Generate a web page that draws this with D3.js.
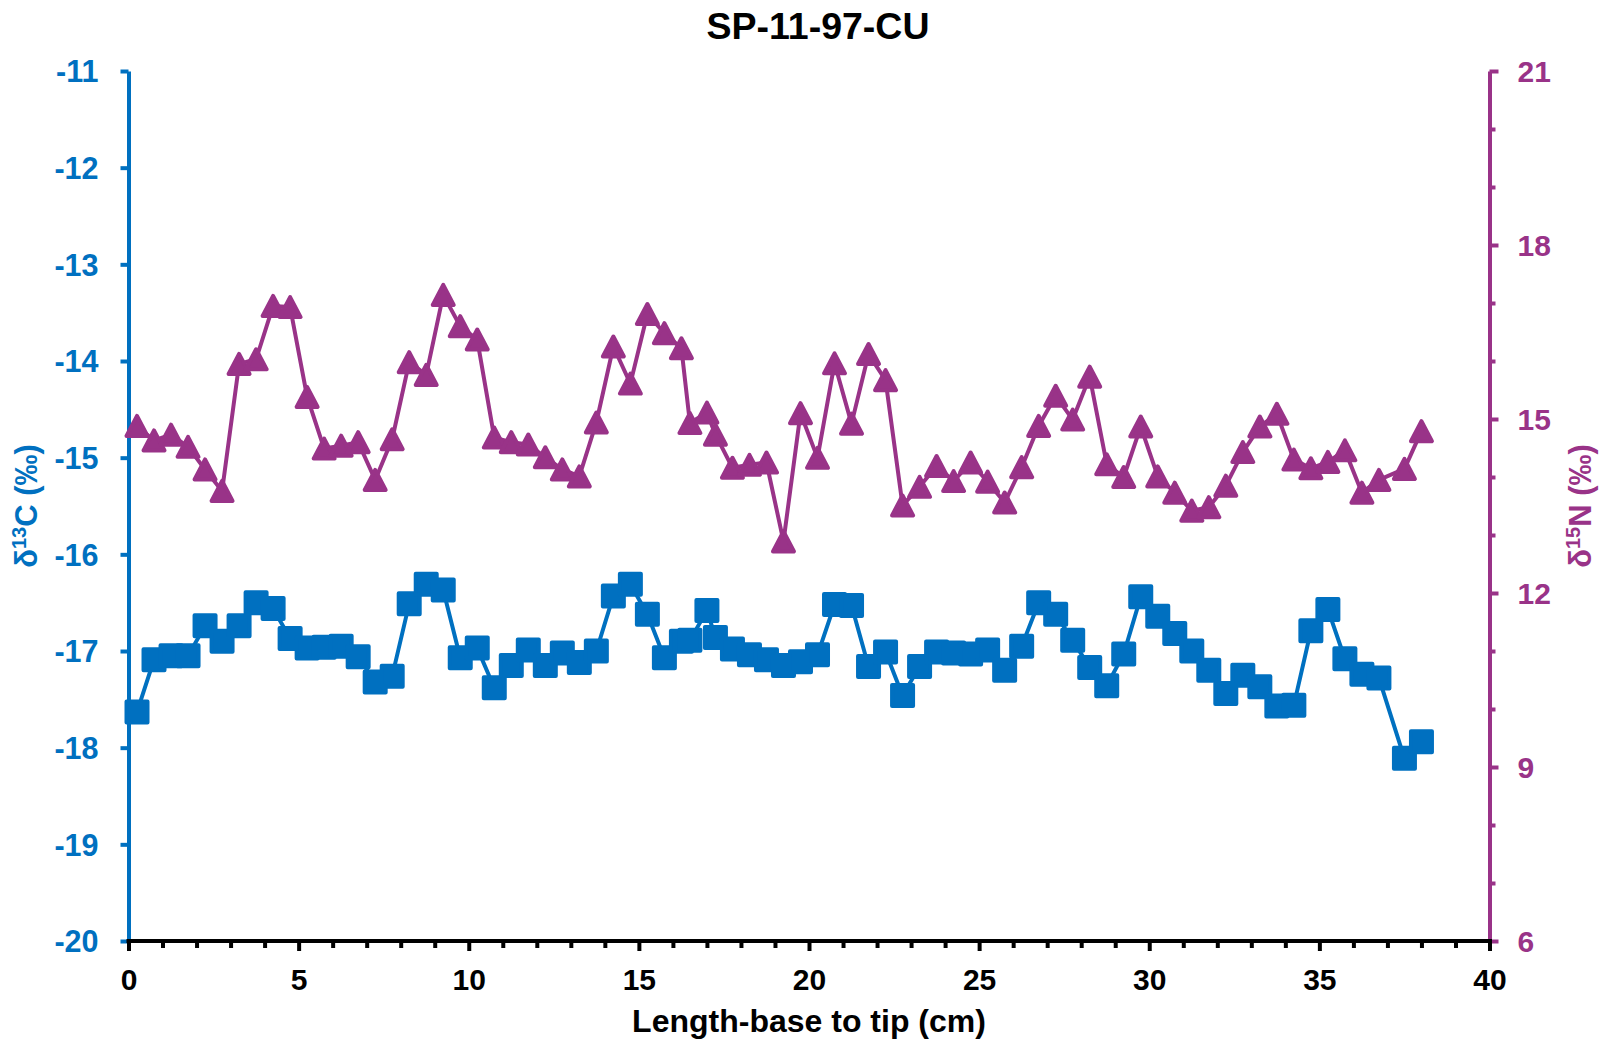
<!DOCTYPE html>
<html>
<head>
<meta charset="utf-8">
<script src="https://cdn.jsdelivr.net/npm/d3@7"></script>
<style>
  html, body { margin: 0; padding: 0; background: #ffffff; }
  svg { display: block; }
</style>
</head>
<body>
<svg id="chart" width="1606" height="1046"></svg>
<script>
// Sample positions along the specimen, base to tip (cm)
const lengthCm = [
  0.25, 0.75, 1.25, 1.75, 2.25, 2.75, 3.25, 3.75, 4.25, 4.75,
  5.25, 5.75, 6.25, 6.75, 7.25, 7.75, 8.25, 8.75, 9.25, 9.75,
  10.25, 10.75, 11.25, 11.75, 12.25, 12.75, 13.25, 13.75, 14.25, 14.75,
  15.25, 15.75, 16.25, 16.5, 17.0, 17.25, 17.75, 18.25, 18.75, 19.25,
  19.75, 20.25, 20.75, 21.25, 21.75, 22.25, 22.75, 23.25, 23.75, 24.25,
  24.75, 25.25, 25.75, 26.25, 26.75, 27.25, 27.75, 28.25, 28.75, 29.25,
  29.75, 30.25, 30.75, 31.25, 31.75, 32.25, 32.75, 33.25, 33.75, 34.25,
  34.75, 35.25, 35.75, 36.25, 36.75, 37.5, 38.0
];

// Carbon isotope ratio, left axis (‰)
const d13C = [
  -17.63, -17.09, -17.05, -17.05, -16.74, -16.90, -16.74, -16.50, -16.56, -16.87,
  -16.97, -16.96, -16.95, -17.06, -17.32, -17.26, -16.51, -16.31, -16.37, -17.07,
  -16.97, -17.38, -17.15, -16.99, -17.15, -17.02, -17.12, -17.00, -16.43, -16.31,
  -16.62, -17.07, -16.90, -16.89, -16.58, -16.86, -16.98, -17.04, -17.09, -17.15,
  -17.11, -17.04, -16.52, -16.53, -17.16, -17.01, -17.46, -17.16, -17.01, -17.02,
  -17.03, -16.99, -17.20, -16.95, -16.50, -16.62, -16.89, -17.17, -17.36, -17.03,
  -16.44, -16.64, -16.82, -17.00, -17.20, -17.44, -17.25, -17.37, -17.57, -17.56,
  -16.79, -16.57, -17.08, -17.24, -17.28, -18.11, -17.94
];

// Nitrogen isotope ratio, right axis (‰)
const d15N = [
  14.88, 14.63, 14.73, 14.52, 14.13, 13.76, 15.95, 16.03, 16.95, 16.93,
  15.38, 14.49, 14.54, 14.60, 13.95, 14.65, 15.98, 15.76, 17.14, 16.60,
  16.37, 14.68, 14.60, 14.56, 14.34, 14.13, 14.01, 14.94, 16.25, 15.61,
  16.81, 16.48, 16.22, 14.93, 15.11, 14.73, 14.16, 14.21, 14.25, 12.89,
  15.10, 14.33, 15.96, 14.92, 16.12, 15.67, 13.51, 13.83, 14.19, 13.93,
  14.25, 13.92, 13.56, 14.17, 14.88, 15.40, 14.99, 15.73, 14.22, 14.00,
  14.87, 14.01, 13.73, 13.42, 13.48, 13.85, 14.43, 14.87, 15.09, 14.30,
  14.15, 14.26, 14.46, 13.73, 13.95, 14.14, 14.79
];

// Axis tick values
const xTicks = d3.range(0, 41, 1);
const cTicks = d3.range(-20, -10, 1);
const nTicks = d3.range(6, 22, 1);

const chartTitle = "SP-11-97-CU";
const xTitle = "Length-base to tip (cm)";

const BLUE = "#0070C0";
const PURPLE = "#993388";
const FONT = "'Liberation Sans', Arial, Helvetica, sans-serif";

const svg = d3.select("#chart")
  .attr("font-family", FONT)
  .attr("font-weight", "bold");

const X0 = 128.5, X1 = 1489.5, YT = 71, YB = 941;

const x = d3.scaleLinear().domain([0, 40]).range([X0, X1]);
const yC = d3.scaleLinear().domain([-20, -11]).range([YB, YT]);
const yN = d3.scaleLinear().domain([6, 21]).range([YB, YT]);

function styleAxis(g, color, size) {
  g.attr("font-family", FONT).attr("font-size", size).attr("font-weight", "bold");
  g.select(".domain").attr("stroke", color).attr("stroke-width", 4);
  g.selectAll(".tick line").attr("stroke", color).attr("stroke-width", 4);
  g.selectAll(".tick text").attr("fill", color);
}

// Left axis: δ13C
const gL = svg.append("g")
  .attr("transform", `translate(${X0},0)`)
  .call(d3.axisLeft(yC).tickValues(cTicks).tickSize(8).tickSizeOuter(0)
    .tickPadding(22).tickFormat(d => String(d)));
styleAxis(gL, BLUE, 30.5);
gL.selectAll(".tick text").attr("dy", "0.36em");

// Right axis: δ15N, minor ticks every 1, labels every 3
const gR = svg.append("g")
  .attr("transform", `translate(${X1},0)`)
  .call(d3.axisRight(yN).tickValues(nTicks).tickSize(7).tickSizeOuter(0)
    .tickPadding(21).tickFormat(d => (d % 3 === 0 ? String(d) : "")));
styleAxis(gR, PURPLE, 30);
gR.selectAll(".tick text").attr("dy", "0.36em");
gR.selectAll(".tick line").attr("x2", d => (d % 3 === 0 ? 9 : 6));

// Bottom axis: length, minor ticks every 1 cm, labels every 5 cm
const gB = svg.append("g")
  .attr("transform", `translate(0,${YB})`)
  .call(d3.axisBottom(x).tickValues(xTicks).tickSize(8).tickSizeOuter(0)
    .tickFormat(d => (d % 5 === 0 ? String(d) : "")));
styleAxis(gB, "#000000", 30);
gB.select(".domain").attr("d", `M${X0 - 2},0H${X1 + 2}`);
gB.selectAll(".tick line").attr("y1", -2).attr("y2", d => (d % 5 === 0 ? 10 : 7));
gB.selectAll(".tick text").attr("y", 49).attr("dy", 0);

// Titles
svg.append("text")
  .attr("x", 818).attr("y", 39)
  .attr("text-anchor", "middle")
  .attr("font-size", 37.5)
  .attr("fill", "#000000")
  .text(chartTitle);

svg.append("text")
  .attr("x", 809).attr("y", 1032)
  .attr("text-anchor", "middle")
  .attr("font-size", 32)
  .attr("fill", "#000000")
  .text(xTitle);

function isoTitle(cx, cy, color, mass, element) {
  const t = svg.append("text")
    .attr("transform", `translate(${cx},${cy}) rotate(-90)`)
    .attr("text-anchor", "middle")
    .attr("font-size", 31)
    .attr("fill", color);
  t.append("tspan").text("δ");
  t.append("tspan").attr("font-size", 20).attr("dy", -11).text(mass);
  t.append("tspan").attr("dy", 11).text(element + " (‰)");
}
isoTitle(37, 506, BLUE, "13", "C");
isoTitle(1591, 506, PURPLE, "15", "N");

// Series data
const carbon = lengthCm.map((v, i) => ({ x: v, y: d13C[i] }));
const nitrogen = lengthCm.map((v, i) => ({ x: v, y: d15N[i] }));

// δ13C line and square markers
svg.append("path")
  .datum(carbon)
  .attr("fill", "none")
  .attr("stroke", BLUE)
  .attr("stroke-width", 4)
  .attr("stroke-linejoin", "round")
  .attr("d", d3.line().x(d => x(d.x)).y(d => yC(d.y)));

svg.append("g").selectAll("rect")
  .data(carbon)
  .join("rect")
  .attr("x", d => x(d.x) - 10.5)
  .attr("y", d => yC(d.y) - 10.5)
  .attr("width", 21)
  .attr("height", 21)
  .attr("fill", BLUE)
  .attr("stroke", BLUE)
  .attr("stroke-width", 4)
  .attr("stroke-linejoin", "round");

// δ15N line and triangle markers
svg.append("path")
  .datum(nitrogen)
  .attr("fill", "none")
  .attr("stroke", PURPLE)
  .attr("stroke-width", 4)
  .attr("stroke-linejoin", "round")
  .attr("d", d3.line().x(d => x(d.x)).y(d => yN(d.y)));

svg.append("g").selectAll("path")
  .data(nitrogen)
  .join("path")
  .attr("transform", d => `translate(${x(d.x)},${yN(d.y)})`)
  .attr("d", "M0,-10L10.5,10L-10.5,10Z")
  .attr("fill", PURPLE)
  .attr("stroke", PURPLE)
  .attr("stroke-width", 4)
  .attr("stroke-linejoin", "round");
</script>
</body>
</html>
